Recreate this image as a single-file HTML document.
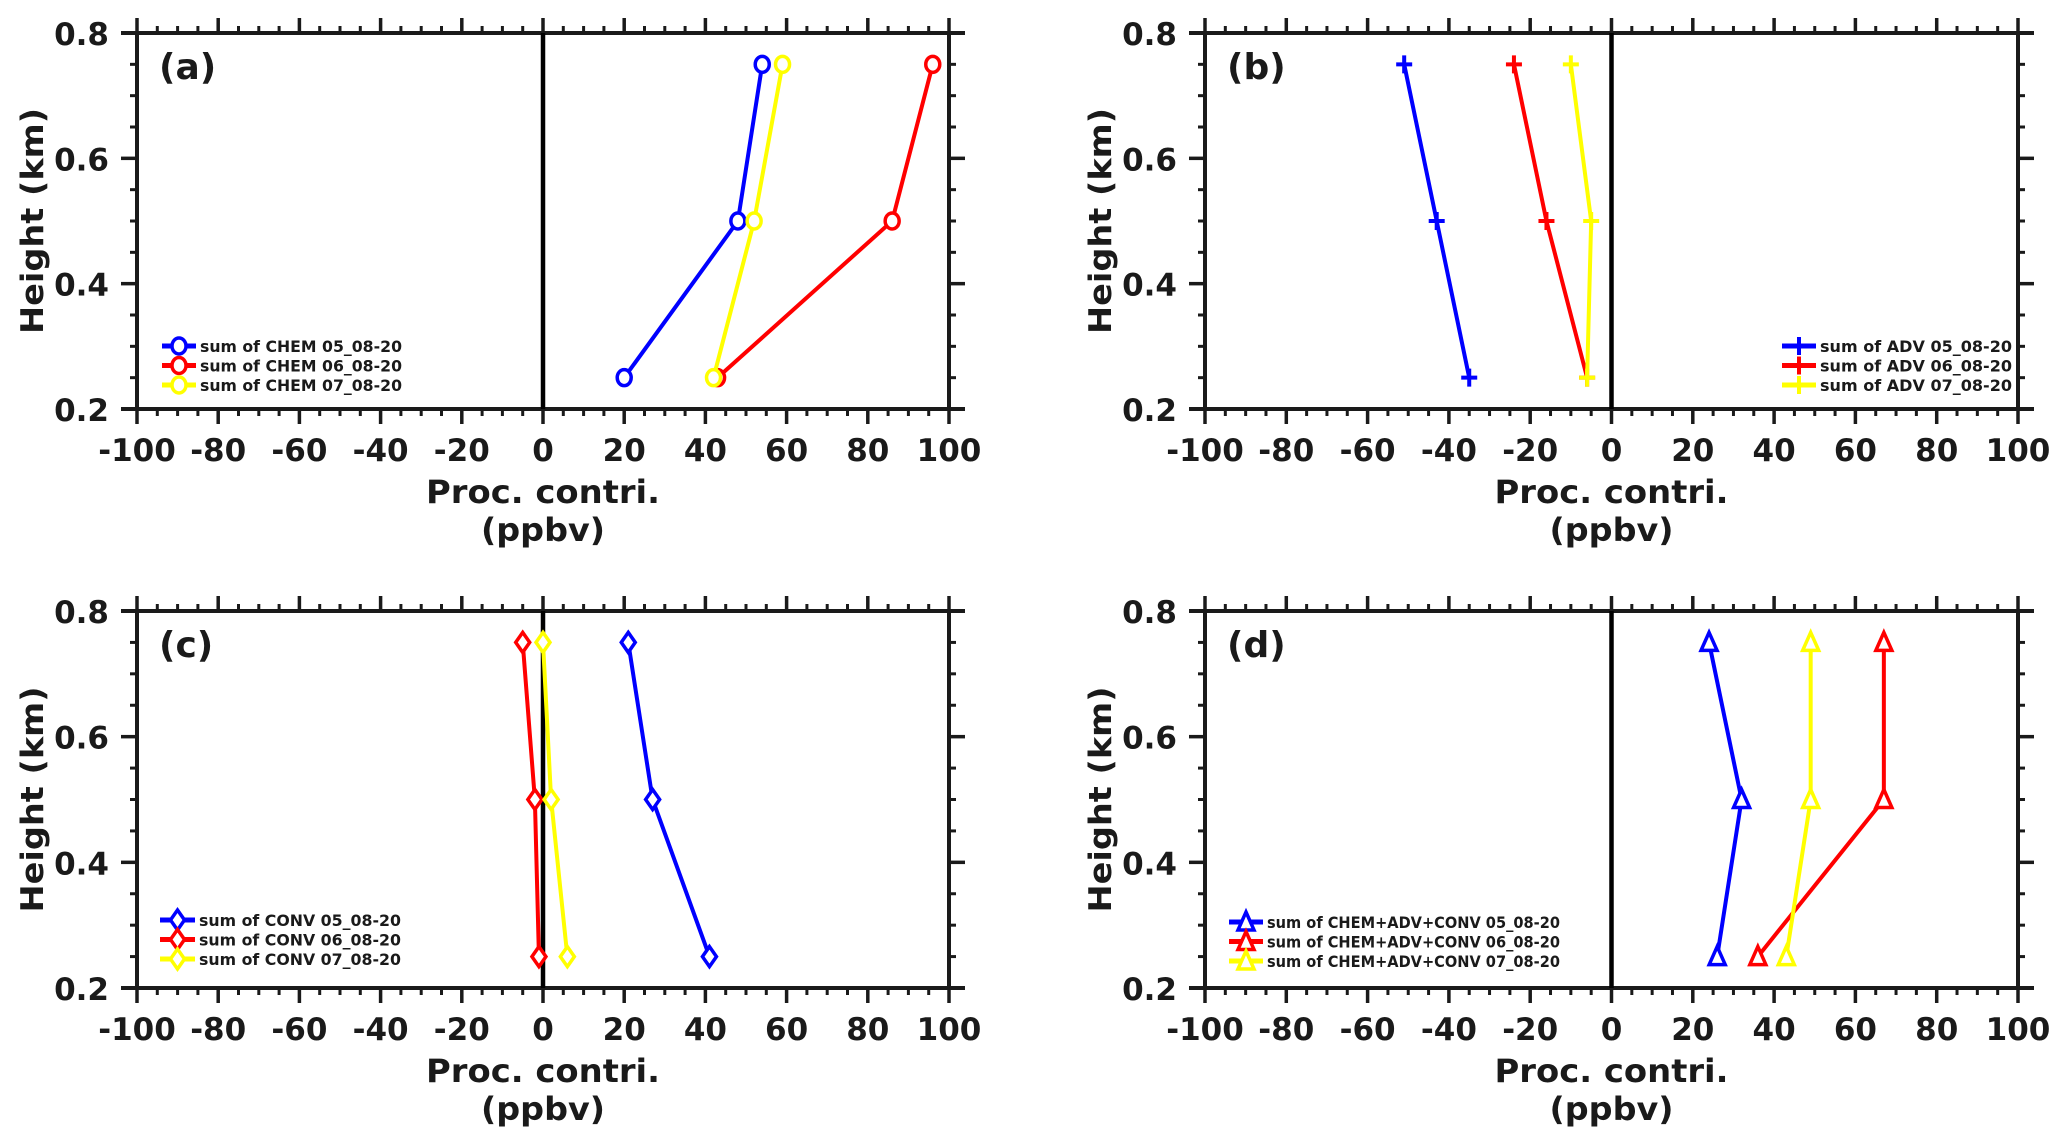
<!DOCTYPE html>
<html><head><meta charset="utf-8">
<style>
html,body{margin:0;padding:0;background:#fff;}
svg{display:block;}
text{font-family:"DejaVu Sans","Liberation Sans",sans-serif;font-weight:bold;fill:#1a1a1a;}
</style></head>
<body>
<svg id="fig" width="2067" height="1148" viewBox="0 0 2067 1148" xmlns="http://www.w3.org/2000/svg"></svg>
<script>
const heights = [0.75, 0.5, 0.25];
const xTicks = [-100,-80,-60,-40,-20,0,20,40,60,80,100];
const yTicks = [0.2,0.4,0.6,0.8];
const dates = ["05_08-20","06_08-20","07_08-20"];
const colors = ["#0000ff","#ff0000","#ffff00"];
const chemBlue = [54, 48, 20];
const chemRed = [96, 86, 43];
const chemYellow = [59, 52, 42];
const advBlue = [-51, -43, -35];
const advRed = [-24, -16, -6];
const advYellow = [-10, -5, -6];
const convBlue = [21, 27, 41];
const convRed = [-5, -2, -1];
const convYellow = [0, 2, 6];
const totBlue = [24, 32, 26];
const totRed = [67, 67, 36];
const totYellow = [49, 49, 43];

const panels = [
 {id:"a", x0:137, x1:949, y0:33, y1:409, label:"(a)", prefix:"sum of CHEM ", marker:"circle", series:[chemBlue,chemRed,chemYellow], lx:162, ly:346, lw:34},
 {id:"b", x0:1205, x1:2018, y0:33, y1:409, label:"(b)", prefix:"sum of ADV ", marker:"plus", series:[advBlue,advRed,advYellow], lx:1782, ly:346, lw:34},
 {id:"c", x0:137, x1:949, y0:611, y1:988, label:"(c)", prefix:"sum of CONV ", marker:"diamond", series:[convBlue,convRed,convYellow], lx:160, ly:920, lw:35},
 {id:"d", x0:1205, x1:2018, y0:611, y1:988, label:"(d)", prefix:"sum of CHEM+ADV+CONV ", marker:"triangle", series:[totBlue,totRed,totYellow], lx:1229, ly:922, lw:34}
];
const svg = document.getElementById('fig');
const NS = "http://www.w3.org/2000/svg";
function mk(tag, attrs, parent){ const e=document.createElementNS(NS,tag); for(const k in attrs) e.setAttribute(k,attrs[k]); (parent||svg).appendChild(e); return e; }

function drawMarker(g, type, cx, cy, col){
  let m;
  if(type==="circle"){ m = mk('ellipse',{cx:cx,cy:cy,rx:7,ry:8,fill:'#fff',stroke:col,'stroke-width':3.5},g); }
  else if(type==="plus"){ m = mk('path',{d:`M${cx-8},${cy}H${cx+8}M${cx},${cy-9}V${cy+9}`,fill:'none',stroke:col,'stroke-width':4},g); }
  else if(type==="diamond"){ m = mk('path',{d:`M${cx},${cy-10}L${cx+7},${cy}L${cx},${cy+10}L${cx-7},${cy}Z`,fill:'#fff',stroke:col,'stroke-width':3.5},g); }
  else { m = mk('path',{d:`M${cx},${cy-10}L${cx+8},${cy+8}L${cx-8},${cy+8}Z`,fill:'#fff',stroke:col,'stroke-width':3.5},g); }
  
  
}

panels.forEach(p=>{
  const g = mk('g',{});
  
  
  const sx = v => p.x0 + (v+100)/200*(p.x1-p.x0);
  const sy = v => p.y1 - (v-0.2)/0.6*(p.y1-p.y0);
  const box = mk('rect',{x:p.x0,y:p.y0,width:p.x1-p.x0,height:p.y1-p.y0,fill:'none',stroke:'#1a1a1a','stroke-width':4},g);
  
  
  mk('path',{d:`M${p.x0-16},${p.y0}H${p.x1+16}M${p.x0-16},${p.y1}H${p.x1+16}`,stroke:'#1a1a1a','stroke-width':4},g);
  for(let v=-100; v<=100; v+=5){
    const major = v%20===0;
    const x = sx(v);
    mk('line',{x1:x,x2:x,y1:p.y1,y2:p.y1+(major?15:7),stroke:'#1a1a1a','stroke-width':major?3.5:3},g);
    mk('line',{x1:x,x2:x,y1:p.y0,y2:p.y0-(major?15:7),stroke:'#1a1a1a','stroke-width':major?3.5:3},g);
  }
  xTicks.forEach(v=>{
    const t = mk('text',{x:sx(v),y:p.y1+52,'text-anchor':'middle','font-size':31},g);
    t.textContent = v;
    
    
  });
  for(let i=0;i<=12;i++){
    const v = 0.2+i*0.05;
    const major = i%4===0;
    const y = sy(v);
    mk('line',{x1:p.x0,x2:p.x0-(major?16:7),y1:y,y2:y,stroke:'#1a1a1a','stroke-width':major?3.5:3},g);
    mk('line',{x1:p.x1,x2:p.x1+(major?16:7),y1:y,y2:y,stroke:'#1a1a1a','stroke-width':major?3.5:3},g);
  }
  yTicks.forEach(v=>{
    const t = mk('text',{x:p.x0-28,y:sy(v)+12,'text-anchor':'end','font-size':31},g);
    t.textContent = v.toFixed(1);
    
    
  });
  const z = mk('line',{x1:sx(0),x2:sx(0),y1:p.y0,y2:p.y1,stroke:'#000','stroke-width':4.5},g);
  
  
  const xt = mk('text',{x:sx(0),y:p.y1+94,'text-anchor':'middle','font-size':32,textLength:234,lengthAdjust:'spacingAndGlyphs'},g);
  xt.textContent = "Proc. contri.";
  
  
  const xu = mk('text',{x:sx(0),y:p.y1+132,'text-anchor':'middle','font-size':32,textLength:124,lengthAdjust:'spacingAndGlyphs'},g);
  xu.textContent = "(ppbv)";
  
  
  const cyT = (p.y0+p.y1)/2;
  const cxT = p.x0-94;
  const yt = mk('text',{x:cxT,y:cyT,'text-anchor':'middle','font-size':31,transform:`rotate(-90 ${cxT} ${cyT})`,textLength:226,lengthAdjust:'spacingAndGlyphs'},g);
  yt.textContent = "Height (km)";
  
  
  const pl = mk('text',{x:p.x0+22,y:p.y0+46,'font-size':36},g);
  pl.textContent = p.label;
  
  
  p.series.forEach((vals,si)=>{
    const sg = mk('g',{},g);
    
    
    const pts = vals.map((v,i)=>sx(v)+','+sy(heights[i])).join(' ');
    const pl2 = mk('polyline',{points:pts,fill:'none',stroke:colors[si],'stroke-width':4},sg);
    
    
    vals.forEach((v,i)=>drawMarker(sg,p.marker,sx(v),sy(heights[i]),colors[si]));
  });
  const lg = mk('g',{},g);
  
  
  dates.forEach((d,i)=>{
    const y = p.ly + i*19.5;
    const e = mk('g',{},lg);
    
    
    mk('line',{x1:p.lx,x2:p.lx+p.lw,y1:y,y2:y,stroke:colors[i],'stroke-width':5},e);
    drawMarker(e,p.marker,p.lx+p.lw/2,y,colors[i]);
    const label = p.prefix + d;
    const t = mk('text',{x:p.lx+p.lw+4,y:y+6,'font-size':16,textLength:Math.round(label.length*10.1),lengthAdjust:'spacingAndGlyphs'},e);
    t.textContent = label;
  });
});
</script>
</body></html>
